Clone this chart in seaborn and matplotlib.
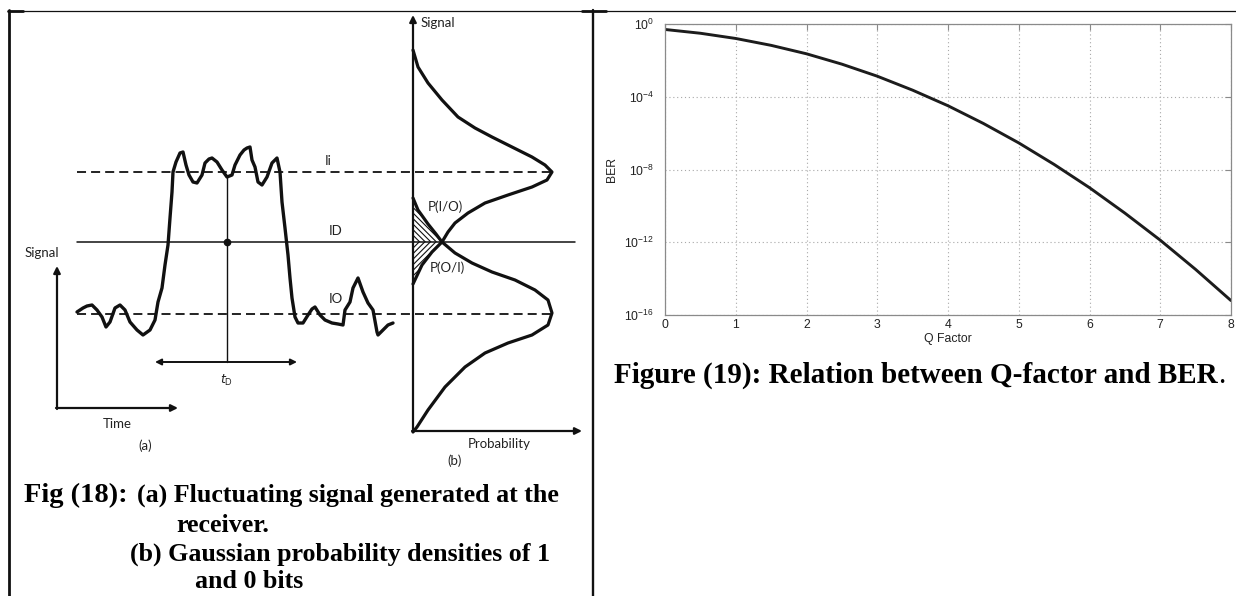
import matplotlib
matplotlib.use("Agg")
import matplotlib.pyplot as plt
from matplotlib.ticker import NullLocator
import seaborn as sns

# ---------------- data: BER vs Q factor ----------------
q_factor = [0, 0.5, 1, 1.5, 2, 2.5, 3, 3.5, 4, 4.5, 5, 5.5, 6, 6.5, 7, 7.5, 8]
ber = [0.5, 0.31, 0.16, 0.067, 0.023, 6.2e-3, 1.35e-3, 2.3e-4, 3.2e-5, 3.4e-6,
       2.9e-7, 1.9e-8, 1.0e-9, 4.0e-11, 1.3e-12, 3.2e-14, 6.2e-16]
q_ticks = [0, 1, 2, 3, 4, 5, 6, 7, 8]
ber_ticks = [1, 1e-4, 1e-8, 1e-12, 1e-16]
ber_tick_labels = ["$10^{0}$", "$10^{-4}$", "$10^{-8}$", "$10^{-12}$", "$10^{-16}$"]

# ---------------- data: diagram (a) fluctuating signal, drawing units ----------------
wave_x = [77, 83, 87, 92, 97, 102, 106, 110, 115, 120, 125, 130, 137, 143, 150, 155,
          158, 162, 165, 168, 170, 172, 173, 176, 180, 183, 186, 189, 193, 197, 202,
          205, 209, 212, 217, 222, 227, 232, 235, 240, 244, 247, 250, 252, 255, 258,
          262, 267, 272, 277, 280, 282, 285, 288, 290, 292, 295, 298, 303, 308, 312,
          315, 320, 325, 332, 338, 343, 345, 350, 353, 358, 363, 368, 373, 377, 378,
          383, 388, 393]
wave_y = [312, 308, 306, 305, 310, 317, 327, 322, 308, 305, 310, 322, 330, 335, 330, 320,
          302, 288, 265, 245, 218, 192, 172, 162, 153, 152, 165, 175, 182, 183, 175,
          163, 159, 158, 162, 170, 177, 175, 165, 155, 150, 148, 147, 160, 167, 182,
          185, 177, 163, 158, 172, 202, 228, 255, 278, 298, 317, 323, 323, 315, 309,
          307, 315, 320, 323, 324, 325, 310, 302, 288, 278, 292, 303, 310, 332, 335,
          330, 325, 323]

# ---------------- data: diagram (b) Gaussian densities, drawing units ----------------
gauss1_x = [413, 418, 428, 442, 458, 475, 492, 512, 532, 545, 552, 547, 532, 508, 485,
            468, 455, 448, 442, 432, 422, 413]
gauss1_y = [50, 67, 83, 100, 117, 128, 137, 147, 157, 165, 172, 180, 187, 195, 203,
            213, 223, 232, 242, 252, 265, 284]
gauss0_x = [413, 418, 428, 436, 442, 455, 472, 492, 515, 535, 548, 552, 548, 532, 508,
            485, 465, 445, 428, 417, 413]
gauss0_y = [198, 210, 224, 234, 242, 253, 263, 272, 280, 290, 300, 313, 325, 335, 343,
            353, 367, 387, 410, 427, 432]
level_one, level_decision, level_zero = 172, 242, 314

# ---------------- figure ----------------
sns.set_theme(style="white")
plt.rcParams["font.family"] = ["Liberation Sans", "DejaVu Sans"]
plt.rcParams["mathtext.default"] = "regular"
plt.rcParams["hatch.linewidth"] = 0.8

W, H = 1236, 596
fig = plt.figure(figsize=(W / 100, H / 100), dpi=100)
fig.patch.set_facecolor("white")

# overlay in pixel-like drawing units
ax0 = fig.add_axes([0, 0, 1, 1])
ax0.set_xlim(0, W)
ax0.set_ylim(H, 0)
ax0.axis("off")

K = "#111111"
# table borders
ax0.plot([8, W], [10.5, 10.5], color=K, lw=0.9)
ax0.plot([8, 23], [11, 11], color=K, lw=2)
ax0.plot([582, 606], [11, 11], color=K, lw=2)
ax0.plot([8.7, 8.7], [10, H], color=K, lw=2)
ax0.plot([593, 593], [10, H], color=K, lw=1.7)

# level lines
ax0.plot([77, 553], [level_one, level_one], color=K, lw=1.3, dashes=(5, 2.8))
ax0.plot([77, 553], [level_zero, level_zero], color=K, lw=1.3, dashes=(5, 2.8))
ax0.plot([77, 575], [level_decision, level_decision], color=K, lw=1.1)

# sampling instant
ax0.plot([227, 227], [177, 362], color=K, lw=1.0)
ax0.plot([227], [level_decision], "o", color=K, ms=4.5)

# waveform
sns.lineplot(x=wave_x, y=wave_y, sort=False, estimator=None, ax=ax0, color=K, lw=2.4)

# gaussian curves
sns.lineplot(x=gauss1_x, y=gauss1_y, sort=False, estimator=None, ax=ax0, color=K, lw=2.3)
sns.lineplot(x=gauss0_x, y=gauss0_y, sort=False, estimator=None, ax=ax0, color=K, lw=2.3)

# hatched error regions
up_x = [413] + gauss0_x[:5] + [413]
up_y = [level_decision] + gauss0_y[:5] + [level_decision]
ax0.fill(up_x, up_y, facecolor="none", edgecolor=K, hatch="\\" * 6, lw=0)
lo_x = [413] + gauss1_x[18:] + [413]
lo_y = [level_decision] + gauss1_y[18:] + [gauss1_y[-1]]
ax0.fill(lo_x, lo_y, facecolor="none", edgecolor=K, hatch="/" * 6, lw=0)

# axes with arrows
ap = dict(arrowstyle="-|>", color=K, lw=1.6, mutation_scale=10, shrinkA=0, shrinkB=0)
ax0.annotate("", xy=(57, 266), xytext=(57, 409), arrowprops=ap)
ax0.annotate("", xy=(178, 408), xytext=(56, 408), arrowprops=ap)
ax0.annotate("", xy=(413, 15), xytext=(413, 432), arrowprops=ap)
ax0.annotate("", xy=(582, 431), xytext=(412, 431), arrowprops=ap)
ap2 = dict(arrowstyle="<|-|>", color=K, lw=1.4, mutation_scale=9, shrinkA=0, shrinkB=0)
ax0.annotate("", xy=(155, 362), xytext=(297, 362), arrowprops=ap2)

# diagram labels
lab = dict(family=["Lato", "DejaVu Sans"], fontsize=9.5, color="#222222", ha="center", va="center")
ax0.text(328, 161, "Ii", **lab)
ax0.text(336, 231, "ID", **lab)
ax0.text(336, 299, "IO", **lab)
ax0.text(42, 253, "Signal", **lab)
ax0.text(117, 424, "Time", **lab)
ax0.text(145, 446, "(a)", **lab)
ax0.text(438, 23, "Signal", **lab)
ax0.text(499, 444, "Probability", **lab)
ax0.text(455, 461, "(b)", **lab)
ax0.text(445, 207, "P(I/O)", **lab)
ax0.text(447, 268, "P(O/I)", **lab)
ax0.text(227, 380, "$\\mathit{t}_{D}$", family=["Lato", "DejaVu Sans"], fontsize=9,
         color="#222222", ha="center", va="center")

# captions
cap = dict(family=["Liberation Serif", "DejaVu Serif"], fontweight="bold", color="black",
           ha="left", va="baseline")
ax0.text(24, 502, "Fig (18):", fontsize=20.5, **cap)
ax0.text(137, 502, "(a) Fluctuating signal generated at the", fontsize=18.7, **cap)
ax0.text(176, 532, "receiver.", fontsize=18.7, **cap)
ax0.text(130, 561, "(b) Gaussian probability densities of 1", fontsize=18.7, **cap)
ax0.text(195, 588.5, "and 0 bits", fontsize=18.7, **cap)
t = ax0.text(614, 383, "Figure (19): Relation between Q-factor and BER", fontsize=21, **cap)
ax0.annotate(".", xy=(1, 0), xycoords=t, ha="left", va="bottom",
             family=["Liberation Serif"], fontsize=21, color="black")

# ---------------- BER chart ----------------
ax = fig.add_axes([665 / W, 1 - 315 / H, (1231 - 665) / W, (315 - 24) / H])
sns.lineplot(x=q_factor, y=ber, ax=ax, color="#1c1c1c", lw=2.1)
ax.set_yscale("log")
ax.set_xlim(0, 8)
ax.set_ylim(1e-16, 1)
ax.set_xticks(q_ticks)
ax.set_xticklabels([str(v) for v in q_ticks])
ax.set_yticks(ber_ticks)
ax.set_yticklabels(ber_tick_labels)
ax.yaxis.set_minor_locator(NullLocator())
ax.grid(True, which="major", linestyle=(0, (1, 2.5)), color="#a8a8a8", lw=0.8)
for s in ax.spines.values():
    s.set_color("#8a8a8a")
    s.set_linewidth(0.9)
ax.tick_params(direction="in", length=4, width=0.8, color="#8a8a8a", top=True, right=True,
               labelsize=8.8, labelcolor="#222222")
ax.tick_params(axis="x", pad=3)
ax.tick_params(axis="y", pad=8)
ax.set_xlabel("Q Factor", fontsize=8.8, color="#222222", labelpad=1)
ax.set_ylabel("BER", fontsize=8.8, color="#222222", labelpad=4)
ax.set_facecolor("white")

fig.savefig("out.png", dpi=100, facecolor="white")
